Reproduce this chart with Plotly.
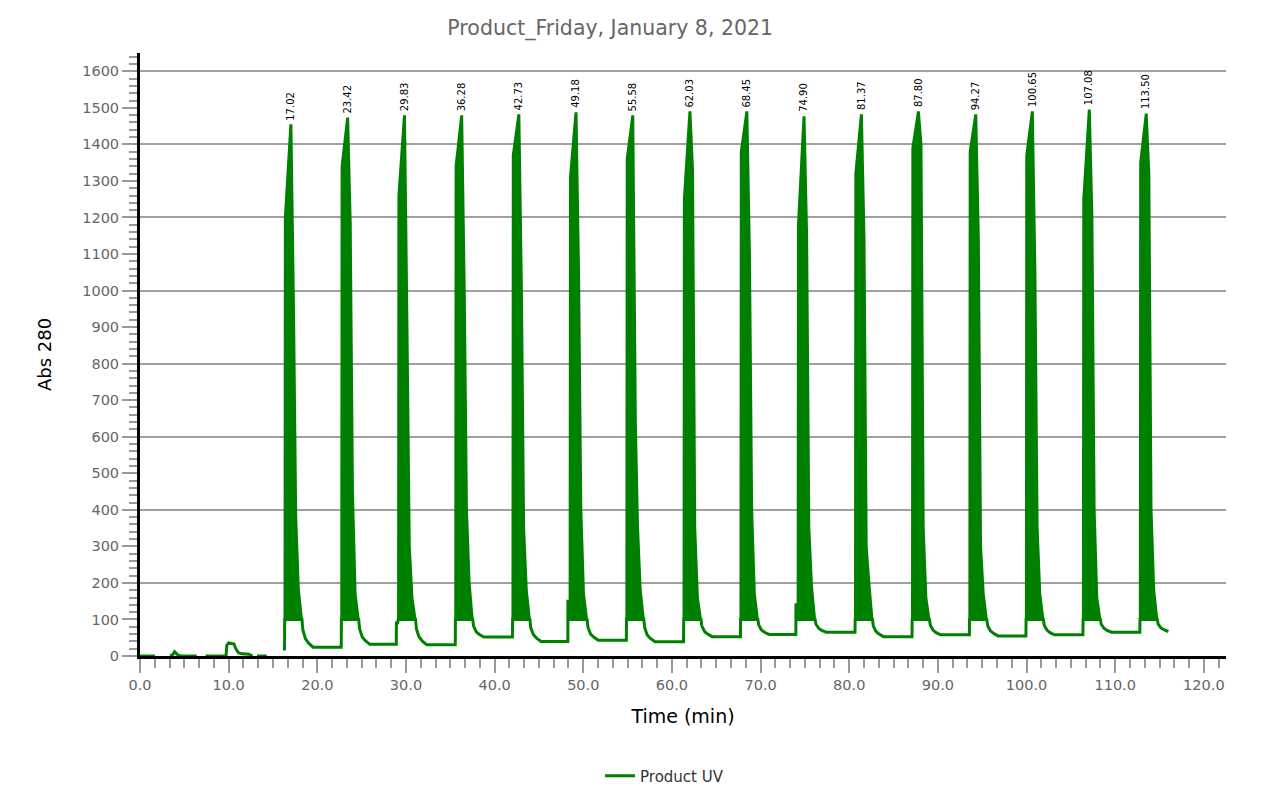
import plotly.graph_objects as go

# early baseline before the first injection (None = gap in the trace)
early_t = [0.0, 1.7, None, 3.4, 3.7, 3.9, 4.1, 4.3, 4.6, 6.4, None,
           7.4, 9.7, 9.8, 10.0, 10.3, 10.6, 10.8, 11.1, 11.5, 12.3, 12.7, None,
           13.2, 14.3, None]
early_v = [0, 0, None, 0, 4, 12, 8, 2, 0, 0, None,
           0, 0, 30, 36, 34, 33, 20, 9, 6, 5, 0, None,
           0, 0, None]
first_value = 15

# peaks (apex time labels and heights)
peak_times = [17.02, 23.42, 29.83, 36.28, 42.73, 49.18, 55.58, 62.03,
              68.45, 74.90, 81.37, 87.80, 94.27, 100.65, 107.08, 113.50]
peak_heights = [1452, 1471, 1477, 1477, 1480, 1485, 1477, 1488,
                1488, 1474, 1480, 1488, 1480, 1488, 1493, 1482]
rise_heights = [1200, 1340, 1260, 1340, 1370, 1310, 1360, 1250,
                1380, 1180, 1320, 1390, 1380, 1370, 1250, 1350]
fall_a = [950, 1180, 880, 1000, 1000, 1040, 640, 1330,
          1100, 1150, 1150, 1400, 1140, 1050, 1200, 1320]
fall_b = [380, 450, 300, 400, 350, 400, 350, 350,
          400, 350, 300, 350, 300, 350, 400, 400]
fall_c = [180, 170, 160, 200, 180, 170, 180, 160,
          170, 190, 200, 160, 170, 170, 160, 180]

# tail after each peak and flat baseline until the next injection
tail_a = [71, 74, 74, 82, 77, 78, 77, 82, 84, 87, 82, 84, 83, 84, 87, 87]
tail_b = [47, 52, 52, 66, 58, 60, 57, 67, 71, 76, 67, 71, 69, 71, 76, 77]
tail_c = [35, 42, 41, 59, 49, 52, 48, 60, 65, 70, 60, 64, 62, 64, 70, 72]
base_after = [24, 32, 31, 52, 40, 43, 39, 53, 59, 65, 53, 58, 55, 58, 65, 67]
pre_step = [None, None, 90, None, None, 150, None, None,
            None, 140, None, None, None, None, None, None]

GREEN = "green"

# main UV line
xs, ys = list(early_t), list(early_v)
prev = first_value
for i, tp in enumerate(peak_times):
    start = tp - 0.72
    if pre_step[i] is not None:
        xs += [start - 0.2, start - 0.19, start - 0.05]
        ys += [prev, pre_step[i], pre_step[i]]
    else:
        xs += [start]
        ys += [prev]
    xs += [start + 0.02, tp + 1.25, tp + 1.35, tp + 1.65, tp + 2.0, tp + 2.5]
    ys += [100, 100, tail_a[i], tail_b[i], tail_c[i], base_after[i]]
    prev = base_after[i]

# filled peak bodies above the 100 line
fx, fy = [], []
for i, tp in enumerate(peak_times):
    start = tp - 0.72
    fx += [start, start + 0.04, tp - 0.06, tp + 0.06, tp + 0.35, tp + 0.6, tp + 0.9, tp + 1.25, None]
    fy += [100, rise_heights[i], peak_heights[i], peak_heights[i],
           fall_a[i], fall_b[i], fall_c[i], 100, None]

fig = go.Figure()
fig.add_trace(go.Scatter(x=fx, y=fy, mode="lines", fill="toself", fillcolor=GREEN,
                         line=dict(color=GREEN, width=2), showlegend=False, hoverinfo="skip"))
fig.add_trace(go.Scatter(x=xs, y=ys, mode="lines", name="Product UV",
                         line=dict(color=GREEN, width=3), connectgaps=False))
# helper trace so the 200-step grid axis gets drawn
fig.add_trace(go.Scatter(x=[None], y=[None], yaxis="y2", showlegend=False, hoverinfo="skip"))

for tp, h in zip(peak_times, peak_heights):
    fig.add_annotation(x=tp, y=h, text=f"{tp:.2f}", textangle=-90, showarrow=False,
                       xanchor="center", yanchor="bottom", yshift=3,
                       font=dict(size=10, color="black"))

font = "DejaVu Sans, Verdana, sans-serif"
fig.update_layout(
    template="plotly_white",
    font=dict(family=font),
    title=dict(text="Product_Friday, January 8, 2021", x=0.433, xref="paper", xanchor="center",
               y=0.975, yanchor="middle", font=dict(size=20.5, color="#666666")),
    margin=dict(l=132, r=45, t=45, b=139),
    plot_bgcolor="white",
    paper_bgcolor="white",
    showlegend=True,
    legend=dict(orientation="h", x=0.483, xanchor="center", yref="container", y=0.024,
                yanchor="middle", font=dict(size=15, color="#333333")),
    xaxis=dict(
        range=[0, 122.5], dtick=10, tick0=0, tickformat=".1f",
        showgrid=False, zeroline=False,
        showline=True, linecolor="black", linewidth=3, layer="below traces",
        ticks="outside", ticklen=14, tickwidth=1.5, tickcolor="#999999",
        tickfont=dict(size=14.5, color="#666666"),
        minor=dict(dtick=10 / 6, tick0=0, ticks="outside", ticklen=9, tickcolor="#999999", tickwidth=1.5),
        title=dict(text="Time (min)", font=dict(size=19, color="black"), standoff=18),
    ),
    yaxis=dict(
        range=[0, 1650], dtick=100, tick0=0,
        showgrid=False, zeroline=False,
        showline=True, linecolor="black", linewidth=3,
        ticks="outside", ticklen=15, tickwidth=1.5, tickcolor="#999999",
        tickfont=dict(size=14.5, color="#666666"),
        minor=dict(dtick=20, ticks="outside", ticklen=8, tickcolor="#999999", tickwidth=1.5),
        title=dict(text="Abs 280", font=dict(size=18, color="black"), standoff=26),
    ),
    yaxis2=dict(
        range=[0, 1650], dtick=200, tick0=0, overlaying="y", side="left",
        showgrid=True, gridcolor="#a0a0a0", gridwidth=1.5,
        showticklabels=False, ticks="", showline=False, zeroline=False,
    ),
)

fig.write_html("out.html")
